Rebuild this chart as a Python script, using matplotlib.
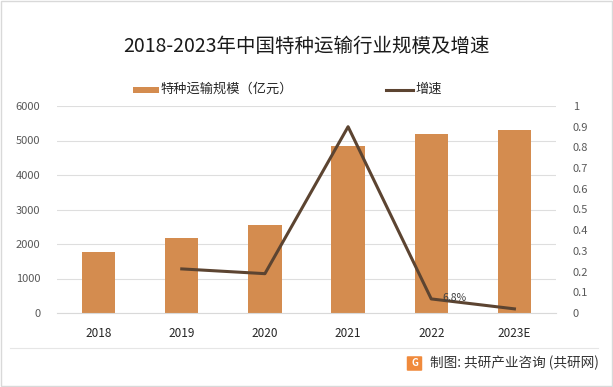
import matplotlib
matplotlib.use("Agg")
import matplotlib.pyplot as plt
from matplotlib.patches import Rectangle, FancyBboxPatch
from matplotlib.lines import Line2D

plt.rcParams['font.family'] = ['Noto Sans CJK SC', 'DejaVu Sans']

years = ['2018', '2019', '2020', '2021', '2022', '2023E']
scale = [1780, 2160, 2550, 4840, 5190, 5300]
growth_years = ['2019', '2020', '2021', '2022', '2023E']
growth = [0.213, 0.19, 0.90, 0.068, 0.02]
left_ticks = [0, 1000, 2000, 3000, 4000, 5000, 6000]
right_ticks = [0, 0.1, 0.2, 0.3, 0.4, 0.5, 0.6, 0.7, 0.8, 0.9, 1]

bar_color = '#D48C4F'
line_color = '#5C4431'
tick_color = '#595959'

W, H = 613, 387
fig = plt.figure(figsize=(W/100, H/100), dpi=100)
fig.patches.append(Rectangle((0.002, 0.002), 0.996, 0.995, transform=fig.transFigure,
                             fill=False, edgecolor='#D9D9D9', linewidth=1))

ax = fig.add_axes([57/W, 1-313/H, (556-57)/W, (313-106)/H])
x = list(range(len(years)))
ax.bar(x, scale, width=0.4, color=bar_color, zorder=2)
ax.set_xlim(-0.5, 5.5)
ax.set_ylim(0, 6000)
ax.set_yticks(left_ticks)
ax.set_yticklabels([str(t) for t in left_ticks])
ax.set_xticks(x)
ax.set_xticklabels(years)
ax.grid(axis='y', color='#DEDEDE', linewidth=0.8, zorder=0)
for s in ['top', 'right', 'left']:
    ax.spines[s].set_visible(False)
ax.spines['bottom'].set_color('#D9D9D9')
ax.tick_params(axis='y', length=0, labelsize=8, colors=tick_color, pad=12)
ax.tick_params(axis='x', length=0, labelsize=8.5, colors='#262626', pad=10)

ax2 = ax.twinx()
gx = [years.index(y) for y in growth_years]
ax2.plot(gx, growth, color=line_color, linewidth=2.2, zorder=3)
ax2.set_ylim(0, 1)
ax2.set_yticks(right_ticks)
ax2.set_yticklabels([('%g' % t) for t in right_ticks])
for s in ['top', 'right', 'left', 'bottom']:
    ax2.spines[s].set_visible(False)
ax2.tick_params(axis='y', length=0, labelsize=8, colors=tick_color, pad=12)
ax2.annotate('6.8%', (years.index('2022'), growth[3]), xytext=(8, 1),
             textcoords='offset points', fontsize=7.5, color='#404040', va='center',
             zorder=4)

fig.text(0.5, 1-46/H, '2018-2023年中国特种运输行业规模及增速', ha='center', va='center',
         fontsize=14, color='#1a1a1a')

# legend
fig.patches.append(Rectangle((133/W, 1-93/H), 26/W, 6/H, transform=fig.transFigure,
                             facecolor=bar_color, edgecolor='none'))
fig.text(160/W, 1-89/H, '特种运输规模（亿元）', va='center', fontsize=9.5, color='#262626')
fig.lines.append(Line2D([386/W, 413/W], [1-90/H, 1-90/H], transform=fig.transFigure,
                        color=line_color, linewidth=2.2))
fig.text(415/W, 1-89/H, '增速', va='center', fontsize=9.5, color='#262626')

# footer
fig.lines.append(Line2D([10/W, 598/W], [1-348/H, 1-348/H], transform=fig.transFigure,
                        color='#E6E6E6', linewidth=0.8))
fig.patches.append(FancyBboxPatch((408/W, 1-370/H), 13/W, 13/H, transform=fig.transFigure,
                                  boxstyle='round,pad=0.002', facecolor='#F08A3C', edgecolor='none'))
fig.text(414.5/W, 1-363.5/H, 'G', ha='center', va='center', fontsize=7, color='white',
         fontweight='bold')
fig.text(430/W, 1-363/H, '制图: 共研产业咨询 (共研网)', va='center', fontsize=9.8,
         color='#333333', fontweight='medium')

fig.savefig('out.png', dpi=100)
